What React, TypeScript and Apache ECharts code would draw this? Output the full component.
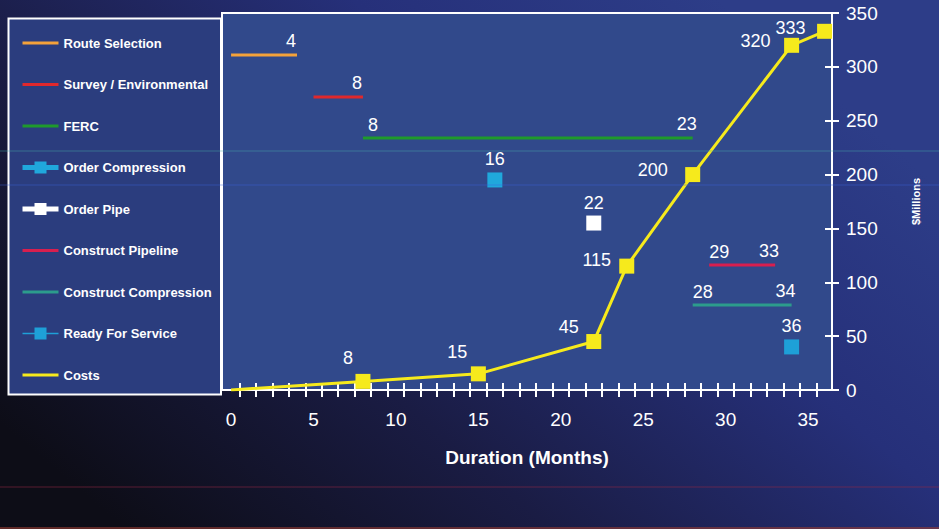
import React, { useEffect, useRef } from 'react';
import * as echarts from 'echarts';

// ---- data ----
const activityNames = ['Route Selection', 'Survey / Environmental', 'FERC', 'Construct Pipeline', 'Construct Compression'];
const activityStart = [0, 5, 8, 29, 28];
const activityEnd = [4, 8, 28, 33, 34];
const activityLevel = [311, 272, 234, 116, 79];
const activityStartLabels = ['', '', '8', '29', '28'];
const activityEndLabels = ['4', '8', '23', '33', '34'];

const milestoneNames = ['Order Compression', 'Order Pipe', 'Ready For Service'];
const milestoneMonth = [16, 22, 34];
const milestoneLevel = [195, 155, 40];
const milestoneLabels = ['16', '22', '36'];

const costMonths = [0, 8, 15, 22, 24, 28, 34, 36];
const costValues = [0, 8, 15, 45, 115, 200, 320, 333];
const costLabels = ['', '8', '15', '45', '115', '200', '320', '333'];

const legendOrder = [
  'Route Selection', 'Survey / Environmental', 'FERC', 'Order Compression', 'Order Pipe',
  'Construct Pipeline', 'Construct Compression', 'Ready For Service', 'Costs',
];

const xLabelValues = [0, 5, 10, 15, 20, 25, 30, 35];
const xTickValues = [0.5, 1.5, 2.5, 3.5, 4.5, 5.5, 6.5, 7.5, 8.5, 9.5, 10.5, 11.5, 12.5, 13.5, 14.5, 15.5, 16.5, 17.5,
  18.5, 19.5, 20.5, 21.5, 22.5, 23.5, 24.5, 25.5, 26.5, 27.5, 28.5, 29.5, 30.5, 31.5, 32.5, 33.5, 34.5, 35.5];

// ---- styles ----
const activityColors = ['#f4a23a', '#e0282c', '#1f9a2c', '#d81f4f', '#2c9c8c'];
const milestoneColors = ['#20a8dc', '#ffffff', '#1ea0d8'];
const milestoneLegendWidth = [5, 5, 1.5];
const costColor = '#f6ea1c';
const costLabelOffsets = [[0, 0], [-15, -23], [-21, -22], [-25, -15], [-30, -6], [-40, -5], [-36, -4], [-34, -3]];
const FONT = '"Liberation Sans", Arial, Helvetica, sans-serif';

export default function App() {
  const ref = useRef<HTMLDivElement>(null);
  useEffect(() => {
    const chart = echarts.init(ref.current!, null, { renderer: 'svg' });
    const labelBase = { show: true, color: '#ffffff', fontSize: 18, fontFamily: FONT, position: 'inside' };

    const activitySeries = activityNames.map((name, i) => ({
      name,
      type: 'line',
      symbol: 'circle',
      symbolSize: 1,
      silent: true,
      itemStyle: { color: 'rgba(0,0,0,0)' },
      lineStyle: { color: activityColors[i], width: 3 },
      z: 3,
      data: [
        {
          value: [activityStart[i], activityLevel[i]],
          label: { ...labelBase, show: activityStartLabels[i] !== '', formatter: () => activityStartLabels[i], offset: [10, -13] },
        },
        {
          value: [activityEnd[i], activityLevel[i]],
          label: { ...labelBase, show: activityEndLabels[i] !== '', formatter: () => activityEndLabels[i], offset: [-6, -14] },
        },
      ],
    }));

    const milestoneSeries = milestoneNames.map((name, i) => ({
      name,
      type: 'line',
      symbol: 'rect',
      symbolSize: 15,
      silent: true,
      itemStyle: { color: milestoneColors[i] },
      lineStyle: { color: milestoneColors[i], width: 3 },
      z: 4,
      label: { ...labelBase, position: 'top', distance: 4, formatter: () => milestoneLabels[i] },
      data: [[milestoneMonth[i], milestoneLevel[i]]],
    }));

    const costSeries = {
      name: 'Costs',
      type: 'line',
      symbol: 'rect',
      symbolSize: 15,
      showAllSymbol: true,
      silent: true,
      itemStyle: { color: costColor },
      lineStyle: { color: costColor, width: 3 },
      z: 5,
      data: costMonths.map((m, i) => ({
        value: [m, costValues[i]],
        symbol: costLabels[i] === '' ? 'none' : 'rect',
        label: { ...labelBase, show: costLabels[i] !== '', formatter: () => costLabels[i], offset: costLabelOffsets[i] },
      })),
    };

    const legendData = legendOrder.map((name) => {
      const mi = milestoneNames.indexOf(name);
      if (mi >= 0) return { name, lineStyle: { width: milestoneLegendWidth[mi] } };
      return { name, itemStyle: { opacity: 0 }, lineStyle: { width: 3 } };
    });

    const axisLineStyle = { color: '#ffffff', width: 2 };
    const xMin = -0.55;
    const xMax = 36.45;

    chart.setOption({
      animation: false,
      backgroundColor: {
        type: 'linear', x: 0, y: 0.8, x2: 0.9, y2: 0.2,
        colorStops: [
          { offset: 0, color: '#0d0d17' },
          { offset: 0.35, color: '#1a1c44' },
          { offset: 0.7, color: '#26307a' },
          { offset: 1, color: '#2d3d88' },
        ],
      },
      grid: {
        left: 222, right: 107, top: 13, bottom: 139,
        show: true, backgroundColor: '#31498b', borderColor: '#ffffff', borderWidth: 2,
        containLabel: false, outerBoundsMode: 'none',
      },
      legend: {
        orient: 'vertical', left: 20, top: 36.5, padding: 0,
        itemWidth: 36, itemHeight: 15, itemGap: 28.5,
        selectedMode: false,
        textStyle: { color: '#ffffff', fontSize: 13, fontWeight: 'bold', fontFamily: FONT },
        data: legendData,
      },
      graphic: [
        {
          type: 'rect', z: 1,
          shape: { x: 8.5, y: 18.5, width: 212.5, height: 376 },
          style: { fill: '#2b3d7e', stroke: '#ffffff', lineWidth: 2 },
        },
        { type: 'line', z: 50, silent: true, shape: { x1: 0, y1: 151, x2: 939, y2: 151 }, style: { stroke: 'rgba(70,175,170,0.45)', lineWidth: 1 } },
        { type: 'line', z: 50, silent: true, shape: { x1: 0, y1: 185, x2: 939, y2: 185 }, style: { stroke: 'rgba(60,100,220,0.45)', lineWidth: 1 } },
        { type: 'line', z: 50, silent: true, shape: { x1: 0, y1: 487, x2: 939, y2: 487 }, style: { stroke: 'rgba(150,40,70,0.55)', lineWidth: 1 } },
        { type: 'line', z: 50, silent: true, shape: { x1: 0, y1: 528, x2: 939, y2: 528 }, style: { stroke: 'rgba(150,60,50,0.6)', lineWidth: 2 } },
      ],
      xAxis: [
        {
          type: 'value', min: xMin, max: xMax, position: 'bottom',
          axisLine: { show: true, onZero: false, lineStyle: axisLineStyle },
          axisTick: { show: true, inside: true, length: 7, customValues: xTickValues, lineStyle: axisLineStyle },
          axisLabel: { show: true, customValues: xLabelValues, color: '#ffffff', fontSize: 19, fontFamily: FONT, margin: 20 },
          splitLine: { show: false },
          name: 'Duration (Months)', nameLocation: 'middle', nameGap: 58,
          nameTextStyle: { color: '#ffffff', fontSize: 19, fontWeight: 'bold', fontFamily: FONT },
        },
        {
          type: 'value', min: xMin, max: xMax, position: 'bottom',
          axisLine: { show: false, onZero: false },
          axisTick: { show: true, inside: false, length: 7, customValues: xTickValues, lineStyle: axisLineStyle },
          axisLabel: { show: false },
          splitLine: { show: false },
        },
      ],
      yAxis: [
        {
          type: 'value', position: 'right', min: 0, max: 350, interval: 50,
          axisLine: { show: true, onZero: false, lineStyle: axisLineStyle },
          axisTick: { show: true, inside: false, length: 7, lineStyle: axisLineStyle },
          axisLabel: { color: '#ffffff', fontSize: 19, fontFamily: FONT, margin: 14 },
          splitLine: { show: false },
          name: '$Millions', nameLocation: 'middle', nameRotate: 90, nameGap: 78,
          nameTextStyle: { color: '#ffffff', fontSize: 11, fontWeight: 'bold', fontFamily: FONT },
        },
        {
          type: 'value', position: 'right', min: 0, max: 350, interval: 50,
          axisLine: { show: false, onZero: false },
          axisTick: { show: true, inside: true, length: 7, lineStyle: axisLineStyle },
          axisLabel: { show: false },
          splitLine: { show: false },
        },
      ],
      series: [...activitySeries, ...milestoneSeries, costSeries],
    });
    return () => chart.dispose();
  }, []);
  return <div ref={ref} style={{ position: 'fixed', left: 0, top: 0, width: 939, height: 529 }} />;
}
